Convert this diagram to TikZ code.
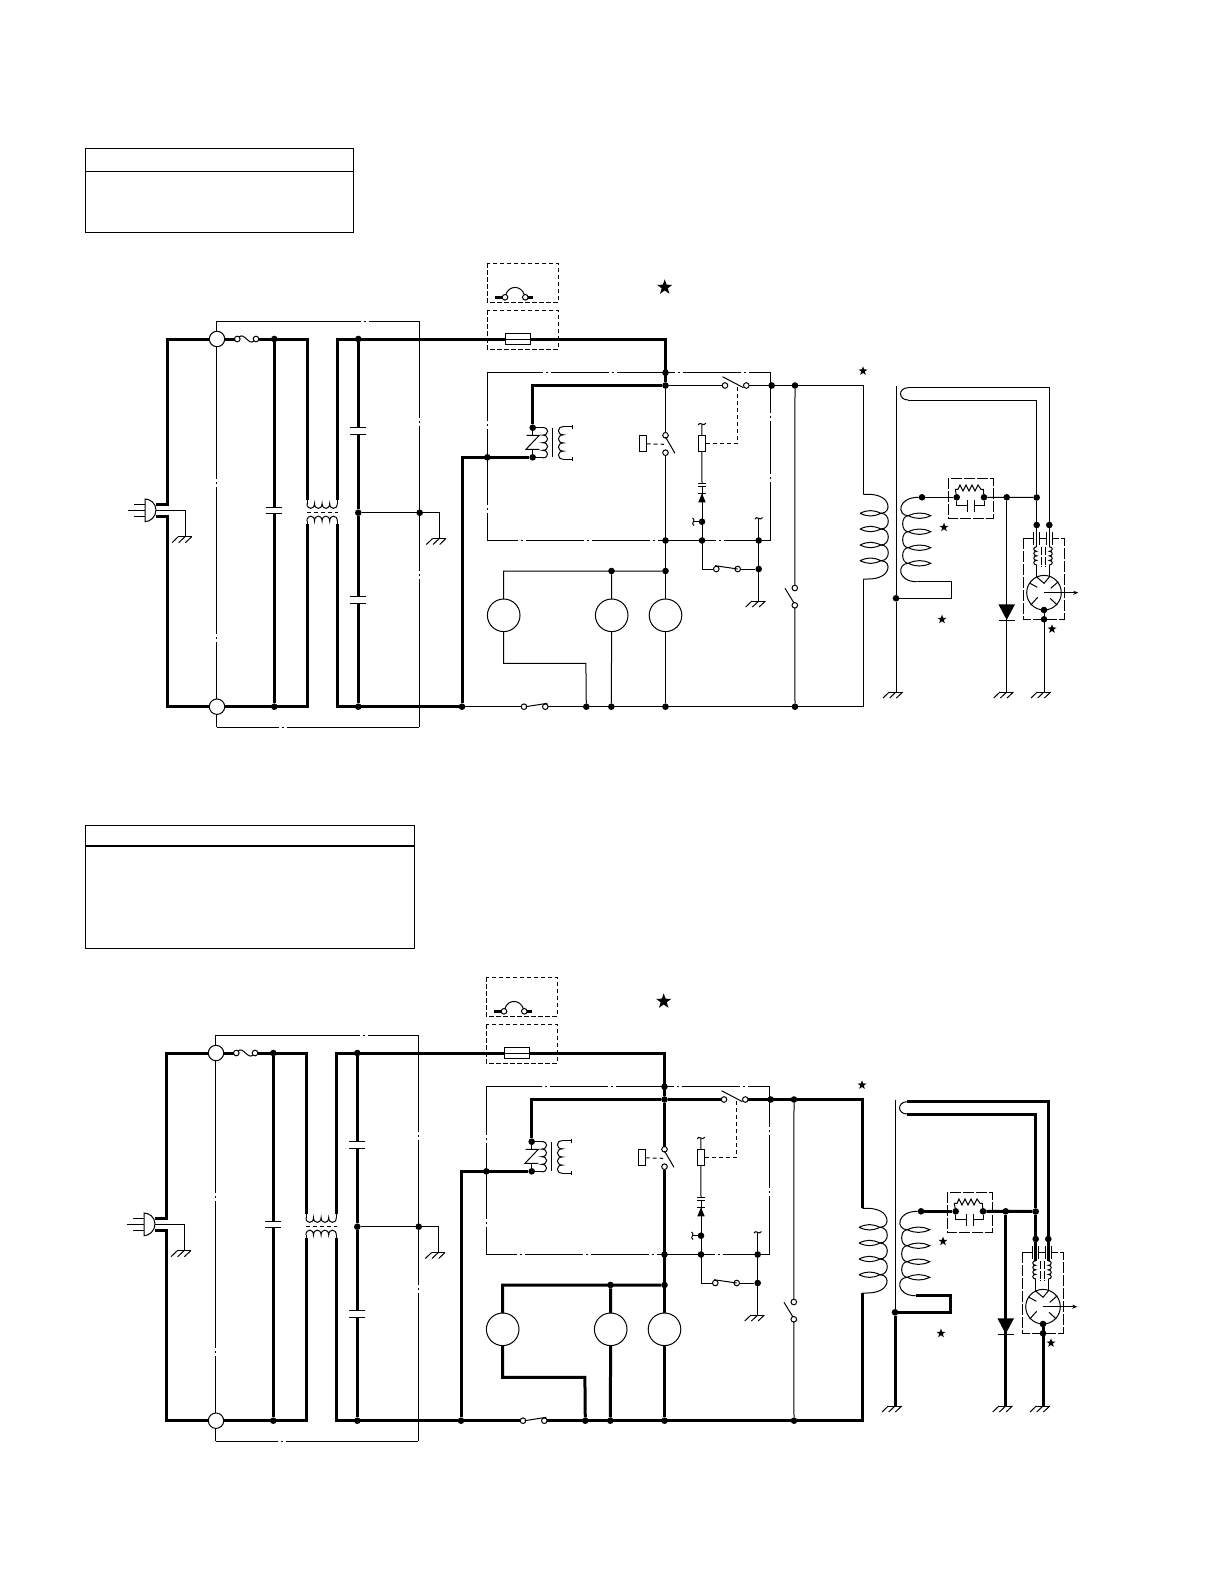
\documentclass[tikz,border=0pt]{standalone}
\usetikzlibrary{arrows.meta,shapes.geometric}

\tikzset{
    wmain/.style={line width=3pt},
    wthin/.style={line width=1pt},
    wload/.style={wthin},
    jdot/.style={circle,fill=black,inner sep=0pt,outer sep=0pt,minimum size=6.6pt},
    hollow/.style={circle,draw,wthin,fill=white,inner sep=0pt,outer sep=0pt,minimum size=5.6pt},
    motor/.style={circle,draw,wthin,fill=white,inner sep=0pt,outer sep=0pt,minimum size=32.6pt},
    plate/.style={rectangle,draw,wthin,fill=white,inner sep=0pt,outer sep=0pt},
    sstar/.style={star,star points=5,star point ratio=2.5,fill=black,inner sep=0pt,minimum size=9.5pt},
    bstar/.style={star,star points=5,star point ratio=2.5,fill=black,inner sep=0pt,minimum size=16pt},
    boxdash/.style={wthin,dash pattern=on 4.5pt off 2.5pt},
    ctrldash/.style={wthin,dash pattern=on 4pt off 3pt},
    longdash/.style={wthin,dash pattern=on 11pt off 2pt},
    gapone/.style={wthin,dash pattern=on #1pt off 3pt on 2pt off 3pt on 2000pt},
    gaptwo/.style 2 args={wthin,dash pattern=on #1pt off 3pt on 2pt off 3pt on #2pt off 3pt on 2pt off 3pt on 2000pt},
    gaprun/.style={wthin,dash pattern=on 58pt off 3pt on 2pt off 3pt,dash phase=#1pt},
    gndsym/.pic={
        \draw[wthin] (-6.7,0) -- (6.7,0);
        \draw[wthin] (-6.7,0) -- (-13,6);
        \draw[wthin] (0,0) -- (-6.3,6);
        \draw[wthin] (6.7,0) -- (.4,6);
    },
    humps/.pic={
        \draw[wthin] (0,0) \foreach \i in {0,...,3} { .. controls ({\i*7.6},6.5) and ({(\i+1)*7.6},6.5) .. ({(\i+1)*7.6},0) };
    },
    tilde/.pic={
        \draw[wthin] (-3.8,.8) .. controls (-2,-3.4) and (1.5,3.4) .. (3.8,-.8);
    },
}

% one whole oven circuit, in page pixels of the upper drawing
\newcommand{\ovencircuit}{
    % dash-dot frames
    \draw[gaptwo={157.7}{147}] (216.5,321.3) -- (216.5,727.3);
    \draw[gaptwo={96.4}{145.3}] (419.3,321.3) -- (419.3,727.3);
    \draw[gapone=144] (216.5,321.3) -- (419.3,321.3);
    \draw[gapone=62] (216.5,727.3) -- (419.3,727.3);
    \draw[gaptwo={48.7}{76}] (487.3,372.3) -- (487.3,540.3);
    \draw[gaptwo={40.4}{53.3}] (770.7,372.3) -- (770.7,540.3);
    \draw[gaprun=2] (487.3,372.3) -- (770.7,372.3);
    \draw[gaprun=27.6] (487.3,540.3) -- (770.7,540.3);
    \draw[boxdash] (487.3,263.3) rectangle (558.3,302.3);
    \draw[boxdash] (487.3,310.3) rectangle (558.3,349.3);
    \draw[longdash] (948.3,478.3) rectangle (993.3,518.3);
    \draw[longdash] (1023.3,538.3) -- (1023.3,619.3) -- (1064.3,619.3) -- (1064.3,538.3) -- (1054,538.3);

    % corners and free ends
    \coordinate (plugtop) at (156,504);
    \coordinate (plugmid) at (156,510);
    \coordinate (plugbot) at (156,516);
    \coordinate (lt) at (167.7,339);
    \coordinate (lb) at (167.7,706.7);
    \coordinate (gndA) at (185,510);
    \coordinate (gndAb) at (185,536.7);
    \coordinate (chokeAt) at (307,339);
    \coordinate (chokeAb) at (307,706.7);
    \coordinate (chokeA) at (307,500);
    \coordinate (chokeB) at (307,524);
    \coordinate (chokeCt) at (337.3,339);
    \coordinate (chokeCb) at (337.3,706.7);
    \coordinate (chokeC) at (337.3,500);
    \coordinate (chokeD) at (337.3,524);
    \coordinate (gndB) at (439.3,512.7);
    \coordinate (gndBb) at (439.3,538.5);
    \coordinate (feedT) at (665.5,339);
    \coordinate (relayT) at (532.7,385.5);
    \coordinate (mainL) at (462,457.3);
    \coordinate (motAt) at (503.5,571);
    \coordinate (motAb1) at (503.5,663.3);
    \coordinate (motAb2) at (585.9,663.3);
    \coordinate (resT) at (702,424);
    \coordinate (resTie) at (737.3,443.3);
    \coordinate (resTie2) at (737.3,385.5);
    \coordinate (capS) at (702,484);
    \coordinate (capSb) at (702,486.6);
    \coordinate (stub) at (693.3,521.7);
    \coordinate (brk) at (702,569);
    \coordinate (stubR) at (758.7,518.3);
    \coordinate (gndC) at (758.7,601);
    \coordinate (prT) at (863.3,385.5);
    \coordinate (prTop) at (863.3,494.3);
    \coordinate (prBot) at (863.3,579);
    \coordinate (prB) at (863.3,706.7);
    \coordinate (coreT) at (896,385.5);
    \coordinate (coreB) at (896,692);
    \coordinate (secB) at (916.7,581.7);
    \coordinate (secC) at (951.7,581.7);
    \coordinate (secD) at (951.7,598.3);
    \coordinate (gndE) at (1006.7,692);
    \coordinate (gndF) at (1044,692);
    \coordinate (hvA) at (908.3,387.7);
    \coordinate (hvB) at (1049.3,387.7);
    \coordinate (hvC) at (908.3,400);
    \coordinate (hvD) at (1036.7,400);
    \coordinate (filA) at (1036.7,546.7);
    \coordinate (filB) at (1049.3,546.7);

    % nodes of the left part
    \node[circle,draw,wthin,fill=white,inner sep=0pt,outer sep=0pt,minimum size=15.4pt] (termT) at (217,339) {};
    \node[circle,draw,wthin,fill=white,inner sep=0pt,outer sep=0pt,minimum size=15.4pt] (termB) at (217,706.7) {};
    \node[hollow] (fuseA) at (237.3,339) {};
    \node[hollow] (fuseB) at (256,339) {};
    \node[jdot] (capAt) at (274.3,339) {};
    \node[jdot] (capAb) at (274.3,706.7) {};
    \node[jdot] (capBt) at (358.3,339) {};
    \node[jdot] (capBm) at (358.3,512.7) {};
    \node[jdot] (capBb) at (358.3,706.7) {};
    \node[jdot] (earth) at (419.7,512.7) {};
    \node[jdot] (mainB) at (462,706.7) {};
    \node[jdot] (frameL) at (487.3,457.3) {};
    \coordinate (capAa) at (274.3,507);
    \coordinate (capAc) at (274.3,513.3);
    \coordinate (capBa) at (358.3,427.7);
    \coordinate (capBc) at (358.3,434.3);
    \coordinate (capCa) at (358.3,596.7);
    \coordinate (capCc) at (358.3,603.3);

    % nodes of the middle part
    \node[hollow] (overA) at (505,297.3) {};
    \node[hollow] (overB) at (525.3,297.3) {};
    \coordinate (overL) at (495,297.3);
    \coordinate (overR) at (533.3,297.3);
    \node[plate,minimum width=24.7pt,minimum height=10.7pt] (fuseM) at (517.7,339) {};
    \node[jdot] (frameT) at (665.5,372.7) {};
    \node[jdot] (busA) at (665.5,385.5) {};
    \node[jdot] (relayA) at (532.7,427.7) {};
    \node[jdot] (relayB) at (532.7,457.3) {};
    \node[hollow] (contA) at (665.5,435.3) {};
    \node[hollow] (contB) at (665.5,452.7) {};
    \node[plate,minimum width=7.4pt,minimum height=16.3pt] (coilS) at (643,443.8) {};
    \node[plate,minimum width=7.6pt,minimum height=16.3pt] (resA) at (701.8,443.2) {};
    \node[hollow] (swA) at (725,385.5) {};
    \node[hollow] (swB) at (746.3,385.5) {};
    \node[jdot] (frameR) at (771.7,385.5) {};
    \node[jdot] (busB) at (795,385.5) {};
    \node[jdot] (dotS) at (702,521.7) {};
    \node[jdot] (frameBa) at (665.5,540.5) {};
    \node[jdot] (frameBb) at (702,540.5) {};
    \node[jdot] (frameBc) at (758.7,540.5) {};
    \node[jdot] (motTa) at (665.5,571) {};
    \node[jdot] (motTb) at (611.5,571) {};
    \node[jdot] (dotR) at (758.7,569) {};
    \node[hollow] (swC) at (716.3,569) {};
    \node[hollow] (swD) at (737.7,569) {};
    \node[motor] (motA) at (503.7,615.3) {};
    \node[motor] (motB) at (611.7,615.3) {};
    \node[motor] (motC) at (665.5,615.3) {};
    \node[hollow] (swE) at (794.8,588) {};
    \node[hollow] (swF) at (794.8,605.3) {};
    \node[hollow] (swG) at (524,706.7) {};
    \node[hollow] (swH) at (545.3,706.7) {};
    \node[jdot] (botA) at (586.3,706.7) {};
    \node[jdot] (botB) at (611.3,706.7) {};
    \node[jdot] (botC) at (665.5,706.7) {};
    \node[jdot] (botD) at (795,706.7) {};

    % nodes of the high voltage part
    \node[jdot] (secA) at (922,497.3) {};
    \node[jdot] (coreD) at (896,598.3) {};
    \node[jdot] (rcA) at (956.7,497.3) {};
    \node[jdot] (rcB) at (984,497.3) {};
    \node[jdot] (hvE) at (1006.7,497.3) {};
    \node[jdot] (hvF) at (1036.7,497.5) {};
    \node[jdot] (tubeA) at (1036.7,525) {};
    \node[jdot] (tubeB) at (1049.3,525) {};
    \node[motor,minimum size=34.6pt] (tube) at (1044,592.7) {};
    \node[jdot] (tubeC) at (1044,610) {};
    \node[jdot] (tubeD) at (1044,619.3) {};
    \coordinate (diodeT) at (1006.7,604.3);
    \coordinate (diodeB) at (1006.7,620);
    \coordinate (tubeOut) at (1078.3,592.7);

    % plug
    \draw[wthin] (145,499) .. controls (150,499) and (156,503) .. (156,510) .. controls (156,517) and (150,521.7) .. (145,521.7) -- cycle;
    \draw[wthin] (128.3,510) -- (145,510);
    \draw[wthin] (134,504.3) -- (145,504.3);
    \draw[wthin] (134,516) -- (145,516);
    \draw[wthin] (plugmid) -- (gndA) -- (gndAb);
    \pic at (gndAb) {gndsym};

    % mains side, heavy in both drawings
    \draw[wmain] (plugtop) -| (lt) -- (termT);
    \draw[wmain] (plugbot) -| (lb) -- (termB);
    \draw[wmain] (termT) -- (fuseA);
    \draw[wthin] (fuseA) .. controls (244,332) and (249,346) .. (fuseB);
    \draw[wmain] (fuseB) -- (chokeAt) -- (chokeA);
    \draw[wmain] (termB) -- (chokeAb) -- (chokeB);
    \draw[wmain] (capAt) -- (capAa);
    \draw[wmain] (capAc) -- (capAb);
    \draw[wthin] (266.3,507) -- (282.3,507);
    \draw[wthin] (266.3,513.3) -- (282.3,513.3);
    \draw[wthin] (chokeA) -- (307,503.5);
    \draw[wthin] (chokeC) -- (337.3,503.5);
    \draw[wthin] (chokeB) -- (307,521);
    \draw[wthin] (chokeD) -- (337.3,521);
    \pic at (306.9,503.5) {humps};
    \pic[yscale=-1] at (306.9,521) {humps};
    \draw[ctrldash] (307,512.3) -- (338,512.3);
    \draw[wmain] (chokeC) -- (chokeCt) -- (fuseM.west);
    \draw[wmain] (chokeD) -- (chokeCb) -- (mainB);
    \draw[wmain] (capBt) -- (capBa);
    \draw[wmain] (capBc) -- (capBm) -- (capCa);
    \draw[wmain] (capCc) -- (capBb);
    \draw[wthin] (350.3,427.7) -- (366.3,427.7);
    \draw[wthin] (350.3,434.3) -- (366.3,434.3);
    \draw[wthin] (350.3,596.7) -- (366.3,596.7);
    \draw[wthin] (350.3,603.3) -- (366.3,603.3);
    \draw[wthin] (capBm) -- (gndB) -- (gndBb);
    \pic at (gndBb) {gndsym};
    \draw[wthin] (fuseM.west) -- (fuseM.east);
    \draw[wmain] (fuseM.east) -- (feedT) -- (busA);
    \draw[wmain] (busA) -- (relayT) -- (relayA);
    \draw[wmain] (mainB) -- (mainL) -- (relayB);

    % thermal cut-out
    \draw[wmain] (overL) -- (overA);
    \draw[wmain] (overB) -- (overR);
    \draw[wthin] (overA) .. controls (509,285) and (521,285) .. (overB);

    % relay
    \draw[wthin] (relayA) -- (532.7,435.3);
    \draw[wthin] (relayB) -- (532.7,449.3);
    \draw[wthin] (526.7,435.3) -- (539.3,435.3) -- (526,449.3) -- (539.3,449.3);
    \draw[wthin] (relayA) -- (542.7,427.7);
    \draw[wthin] (relayB) -- (542.7,457.3);
    \pic[rotate=90] at (542.7,457.9) {humps};
    \draw[wthin] (552.7,428) -- (552.7,457.3);
    \draw[wthin] (572.7,426.7) -- (563.3,426.7);
    \draw[wthin] (572.7,459.3) -- (563.3,459.3);
    \draw[wthin] (572.7,424.7) -- (572.7,428.7);
    \draw[wthin] (572.7,457.3) -- (572.7,461.3);
    \pic[rotate=-90,xscale=1.07] at (563.3,426.7) {humps};

    % load wires, light above and heavy below
    \draw[wload] (busA) -- (contA);
    \draw[wload] (contB) -- (motC);
    \draw[wload] (motC) -- (botC);
    \draw[wload] (motTa) -- (motAt) -- (motA);
    \draw[wload] (motTb) -- (motB);
    \draw[wload] (motB) -- (botB);
    \draw[wload] (motA) -- (motAb1) -- (motAb2) -- (botA);
    \draw[wload] (busA) -- (swA);
    \draw[wload] (swB) -- (prT) -- (prTop);
    \draw[wload] (mainB) -- (swG);
    \draw[wload] (swH) -- (prB) -- (prBot);
    \draw[wthin] (665.5,437) -- (675,453.3);
    \draw[ctrldash] (coilS.east) -- (664,444.3);
    \draw[wthin] (722.5,376.7) -- (743.5,387.7);
    \draw[wthin] (525.7,706.7) -- (547.3,703.3);
    \draw[ctrldash] (resA.east |- resTie) -- (resTie) -- (resTie2);

    % control branch stays light
    \draw[wthin] (resA) -- (resT);
    \pic at (resT) {tilde};
    \draw[wthin] (resA) -- (capS);
    \draw[wthin] (698.4,483.8) -- (705.6,483.8);
    \draw[wthin] (698.4,486.6) -- (705.6,486.6);
    \draw[wthin] (capSb) -- (brk) -- (swC);
    \draw[wthin] (698.2,493.3) -- (705.8,493.3);
    \fill (702,493.3) -- (698.3,502.3) -- (705.7,502.3) -- cycle;
    \draw[wthin] (dotS) -- (stub);
    \pic[rotate=90] at (stub) {tilde};
    \draw[wthin] (swD) -- (dotR);
    \draw[wthin] (715,565.7) -- (737.7,569);
    \draw[wthin] (stubR) -- (gndC);
    \pic at (stubR) {tilde};
    \pic at (gndC) {gndsym};
    \draw[wthin] (busB) -- (swE);
    \draw[wthin] (swF) -- (botD);
    \draw[wthin] (785,588.3) -- (794,603);

    % primary
    \draw[wthin] (prTop) -- (868,494.3) .. controls (892,494.3) and (892,513.3) .. (881,513.3);
    \draw[wthin] (881,560.7) .. controls (892,560.7) and (892,579) .. (868,579) -- (prBot);
    \foreach \ya/\yb in {513.3/529,529/545,545/560.7}
        \draw[wthin] (881,\ya) .. controls (890.7,\ya) and (890.7,\yb) .. (881,\yb);
    \foreach \ly in {513.3,529,545,560.7}
        \draw[wthin] (860,\ly) .. controls (868,\ly-3.6) and (873,\ly-3.6) .. (881,\ly) .. controls (873,\ly+3.6) and (868,\ly+3.6) .. (860,\ly);

    % core and secondary
    \draw[wthin] (coreT) -- (coreD);
    \draw[wload] (coreD) -- (coreB);
    \pic at (coreB) {gndsym};
    \draw[wthin] (secA) .. controls (897,497.3) and (897,515.7) .. (908.3,515.7);
    \draw[wthin] (908.3,563.3) .. controls (897,563.3) and (897,581.7) .. (secB);
    \foreach \ya/\yb in {515.7/531.7,531.7/547.7,547.7/563.3}
        \draw[wthin] (908.3,\ya) .. controls (900.8,\ya) and (900.8,\yb) .. (908.3,\yb);
    \foreach \ly in {515.7,531.7,547.7,563.3}
        \draw[wthin] (908.3,\ly) .. controls (916,\ly-3.6) and (923,\ly-3.6) .. (930.7,\ly) .. controls (923,\ly+3.6) and (916,\ly+3.6) .. (908.3,\ly);
    \draw[wload] (secB) -- (secC) -- (secD) -- (coreD);
    \draw[wload] (secA) -- (rcA);
    \draw[wload] (rcB) -- (hvF);

    % resistor and capacitor across the box
    \draw[wthin] (rcA) -- (955.3,489.3) -- (958,489.3) -- (960,485) -- (963,491) -- (966,485) -- (969,491) -- (972,485) -- (975,491) -- (978,485) -- (981,489.3) -- (983.3,489.3) -- (rcB);
    \draw[wthin] (rcA) -- (956.7,505) -- (967.7,505);
    \draw[wthin] (967.7,500) -- (967.7,511.7);
    \draw[wthin] (974,500) -- (974,511.7);
    \draw[wthin] (974,505) -- (984,505) -- (rcB);

    % diode
    \draw[wload] (hvE) -- (gndE);
    \pic at (gndE) {gndsym};
    \fill (998.4,604.3) -- (1015,604.3) -- (diodeB) -- cycle;
    \draw[wthin] (998.7,620) -- (1014.7,620);

    % high voltage loop
    \draw[wthin] (hvA) .. controls (898,387.7) and (898,400) .. (hvC);
    \draw[wload] (hvA) -- (hvB) -- (tubeB);
    \draw[wload] (hvC) -- (hvD) -- (hvF);
    \draw[wload] (hvF) -- (tubeA);

    % magnetron
    \draw[wload] (tubeA) -- (filA);
    \draw[wload] (tubeB) -- (filB);
    \draw[wthin] (1033.3,532) -- (1033.3,545);
    \draw[wthin] (1039.3,532) -- (1039.3,545);
    \draw[wthin] (1046.7,532) -- (1046.7,545);
    \draw[wthin] (1052.7,532) -- (1052.7,545);
    \draw[wthin] (1039.3,538.3) -- (1046.7,538.3);
    \draw[wthin] (1023.3,538.3) -- (1033.3,538.3);
    \draw[wthin] (1052.7,538.3) -- (1056,538.3);
    \pic[rotate=-90,scale=.6] at (filA) {humps};
    \pic[rotate=90,scale=.6] at (1049.3,565) {humps};
    \draw[wthin] (1036.7,565) -- (1036.7,577);
    \draw[wthin] (1049.3,565) -- (1049.3,577);
    \draw[wthin,dash pattern=on 8pt off 1.5pt] (1041.7,547) -- (1041.7,567);
    \draw[wthin,dash pattern=on 8pt off 1.5pt] (1045,547) -- (1045,567);
    \draw[wthin] (1036.7,577) -- (1044,583.3) -- (1049.3,577);
    \draw[wthin] (1030,583.3) -- (1037.3,587.3);
    \draw[wthin] (1058.3,581.7) -- (1050.7,588.3);
    \draw[wthin] (1030.7,605) -- (1037.7,597.3);
    \draw[wthin] (1057.3,605) -- (1050,598.3);
    \draw[wthin,-{Stealth[length=5pt,width=4pt]}] (tube.center) -- (tubeOut);
    \draw[wload] (tubeC) -- (gndF);
    \pic at (gndF) {gndsym};

    % stars
    \node[bstar] (starA) at (664.7,287.3) {};
    \node[sstar] (starB) at (863,371) {};
    \node[sstar] (starC) at (944,527.3) {};
    \node[sstar] (starD) at (942,619.3) {};
    \node[sstar] (starE) at (1052,629) {};
}

\begin{document}
\begin{tikzpicture}[x=1pt,y=-1pt]
    \useasboundingbox (0,0) rectangle (1220,1584);

    \draw[line width=1.1pt] (85.3,148.3) rectangle (353.7,232.3);
    \draw[line width=1.1pt] (85.3,171.3) -- (353.7,171.3);
    \draw[line width=1.1pt] (85.3,825.3) rectangle (414.3,948.3);
    \draw[line width=1.1pt] (85.3,846) -- (414.3,846);

    \begin{scope}[name prefix=upper-]
        \ovencircuit
    \end{scope}
    \begin{scope}[shift={(-1,714)},name prefix=lower-,wload/.style={wmain}]
        \ovencircuit
    \end{scope}
\end{tikzpicture}
\end{document}
